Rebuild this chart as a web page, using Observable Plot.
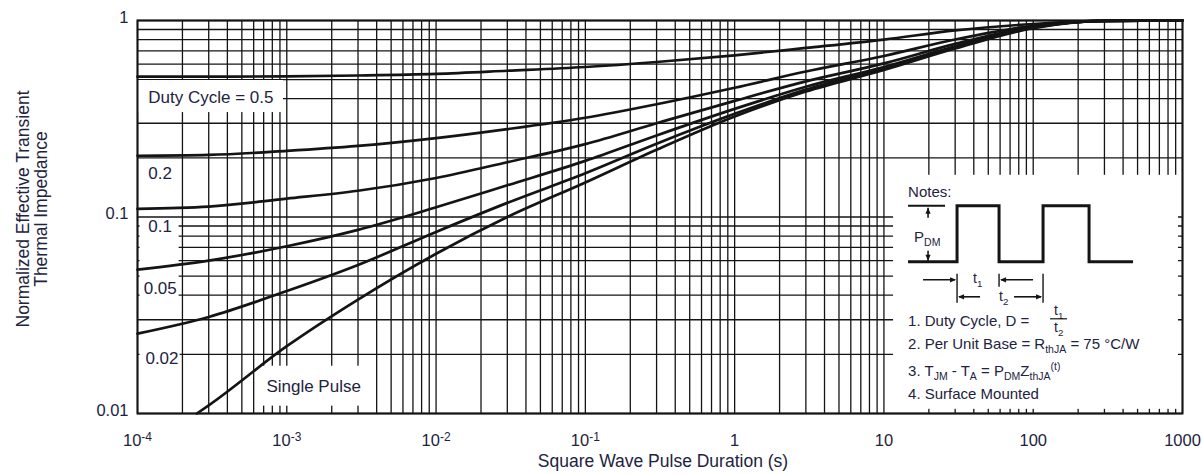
<!DOCTYPE html>
<html>
<head>
<meta charset="utf-8">
<script src="https://cdn.jsdelivr.net/npm/d3@7"></script>
<script src="https://cdn.jsdelivr.net/npm/@observablehq/plot@0.6"></script>
<style>
  html, body { margin: 0; padding: 0; background: #fff; }
  #chart { width: 1202px; height: 474px; }
  text { white-space: pre; }
</style>
</head>
<body>
<div id="chart"></div>
<script>
// ---------- data ----------
const pulseTimes = [1e-4, 3e-4, 1e-3, 3e-3, 1e-2, 3e-2, 0.1, 0.3, 1, 3, 10, 30, 100, 300, 1000];
const duty05 = [0.518, 0.518, 0.52, 0.525, 0.535, 0.555, 0.58, 0.615, 0.665, 0.725, 0.80, 0.89, 0.96, 0.996, 1.0];
const duty02 = [0.205, 0.207, 0.217, 0.23, 0.252, 0.28, 0.32, 0.375, 0.455, 0.55, 0.66, 0.80, 0.94, 0.996, 1.0];
const duty01 = [0.110, 0.113, 0.124, 0.136, 0.158, 0.19, 0.235, 0.30, 0.39, 0.49, 0.605, 0.76, 0.93, 0.995, 1.0];
const duty005 = [0.054, 0.060, 0.071, 0.086, 0.112, 0.145, 0.193, 0.26, 0.355, 0.46, 0.58, 0.74, 0.925, 0.995, 1.0];
const duty002 = [0.0255, 0.031, 0.042, 0.057, 0.084, 0.118, 0.167, 0.236, 0.335, 0.445, 0.57, 0.73, 0.92, 0.995, 1.0];
const singleTimes = [2.5e-4, 3e-4, 1e-3, 3e-3, 1e-2, 3e-2, 0.1, 0.3, 1, 3, 10, 30, 100, 300, 1000];
const singlePulse = [0.010, 0.011, 0.022, 0.038, 0.065, 0.10, 0.15, 0.22, 0.325, 0.435, 0.56, 0.72, 0.915, 0.995, 1.0];

const seriesNames = ["0.5", "0.2", "0.1", "0.05", "0.02", "Single Pulse"];
const xTicks = [1e-4, 1e-3, 1e-2, 1e-1, 1, 10, 100, 1000];
const xTickLabels = ["10^-4", "10^-3", "10^-2", "10^-1", "1", "10", "100", "1000"];
const yTicks = [0.01, 0.1, 1];
const yTickLabels = ["0.01", "0.1", "1"];
const curveLabelTexts = ["Duty Cycle = 0.5", "0.2", "0.1", "0.05", "0.02", "Single Pulse"];
const xTitle = "Square Wave Pulse Duration (s)";
const yTitle = "Normalized Effective Transient\nThermal Impedance";

// ---------- build tables ----------
const rows = [];
[duty05, duty02, duty01, duty005, duty002].forEach((vals, s) =>
  vals.forEach((z, i) => rows.push({t: pulseTimes[i], z, series: seriesNames[s]})));
singlePulse.forEach((z, i) => rows.push({t: singleTimes[i], z, series: seriesNames[5]}));

// log grid
const xGrid = [];
for (let e = -4; e <= 2; e++) for (let k = 1; k <= 9; k++) xGrid.push(k * Math.pow(10, e));
xGrid.push(1000);
const yGrid = [];
for (let e = -2; e <= -1; e++) for (let k = 1; k <= 9; k++) yGrid.push(k * Math.pow(10, e));
yGrid.push(1);

// annotation placement (data coordinates)
const labelPos = [
  {x: 1.18e-4, y: 0.405}, {x: 1.18e-4, y: 0.166}, {x: 1.18e-4, y: 0.0895},
  {x: 1.10e-4, y: 0.0434}, {x: 1.13e-4, y: 0.0191}, {x: 7.3e-4, y: 0.0137}
];
const curveLabels = curveLabelTexts.map((text, i) => ({text, ...labelPos[i]}));
const notesBox = [{x1: 11.6, x2: 940, y1: 0.0105, y2: 0.163}];
const whiteBoxes = [
  {x1: 1e-4, x2: 9.5e-4, y1: 0.34, y2: 0.495},
  {x1: 1.04e-4, x2: 1.9e-4, y1: 0.037, y2: 0.097},
  {x1: 1.04e-4, x2: 1.93e-4, y1: 0.0145, y2: 0.0235},
  {x1: 6.5e-4, x2: 3.7e-3, y1: 0.0109, y2: 0.0174}
];

const INK = "#1d2340";
const LINE = "#141414";
const FONT = '"Liberation Sans", Arial, Helvetica, sans-serif';

const svg = Plot.plot({
  width: 1202,
  height: 474,
  marginLeft: 137,
  marginRight: 20,
  marginTop: 20,
  marginBottom: 61,
  x: {type: "log", domain: [1e-4, 1000]},
  y: {type: "log", domain: [0.01, 1]},
  style: {fontFamily: FONT, fontSize: "16.5px", color: INK, background: "white", overflow: "visible"},
  marks: [
    Plot.ruleX(xGrid, {stroke: LINE, strokeWidth: 1.3}),
    Plot.ruleY(yGrid, {stroke: LINE, strokeWidth: 1.3}),
    Plot.rect(whiteBoxes, {x1: "x1", x2: "x2", y1: "y1", y2: "y2", fill: "white"}),
    Plot.rect(notesBox, {x1: "x1", x2: "x2", y1: "y1", y2: "y2", fill: "white"}),
    Plot.line(rows, {x: "t", y: "z", z: "series", stroke: LINE, strokeWidth: 2.7, curve: "monotone-x"}),
    Plot.frame({stroke: LINE, strokeWidth: 2}),
    Plot.text(curveLabels, {x: "x", y: "y", text: "text", textAnchor: "start", fontSize: 17, fill: INK}),
    Plot.axisX(xTicks, {tickSize: 0, tickPadding: 21, tickFormat: d => xTickLabels[xTicks.indexOf(d)], fontSize: 16.5, fill: INK}),
    Plot.axisY(yTicks, {tickSize: 0, tickPadding: 9, dy: -3, tickFormat: d => yTickLabels[yTicks.indexOf(d)], fontSize: 16.5, fill: INK}),
    Plot.text([xTitle], {frameAnchor: "bottom", dx: 3, dy: 53, fontSize: 17.5, fill: INK}),
    Plot.text([yTitle], {frameAnchor: "left", textAnchor: "middle", rotate: -90, dx: -105, dy: -8, lineHeight: 1.04, fontSize: 17.5, fill: INK})
  ]
});
document.getElementById("chart").appendChild(svg);

// superscripts on x tick labels
d3.select(svg).selectAll('g[aria-label="x-axis tick label"] text').each(function () {
  const s = this.textContent;
  if (s.includes("^")) {
    const [base, exp] = s.split("^");
    const t = d3.select(this);
    t.text(null);
    t.append("tspan").text(base);
    t.append("tspan").attr("dy", "-0.42em").style("font-size", "12px").text(exp);
  }
});

// ---------- notes inset ----------
const X = svg.scale("x"), Y = svg.scale("y");
const ox = X.apply(notesBox[0].x1), oy = Y.apply(notesBox[0].y2);
const g = d3.select(svg).append("g")
  .attr("transform", `translate(${ox},${oy})`)
  .attr("fill", INK)
  .attr("text-anchor", "start")
  .style("font-family", FONT);

function rich(x, y, parts, size = 15) {
  const t = g.append("text").attr("x", x).attr("y", y).attr("text-anchor", "start").style("font-size", size + "px");
  let shift = 0;
  for (const [s, kind] of parts) {
    const target = kind === "sub" ? 4 : kind === "sup" ? -6 : 0;
    t.append("tspan").attr("dy", target - shift)
      .style("font-size", (kind === "n" ? size : size * 0.7) + "px").text(s);
    shift = target;
  }
  return t;
}
function seg(x1, y1, x2, y2, w = 1.6) {
  g.append("line").attr("x1", x1).attr("y1", y1).attr("x2", x2).attr("y2", y2)
    .attr("stroke", LINE).attr("stroke-width", w);
}
function head(x, y, dir) {
  const L = 6, H = 2.6;
  let p;
  if (dir === "right") p = `M${x},${y}L${x - L},${y - H}L${x - L},${y + H}Z`;
  if (dir === "left") p = `M${x},${y}L${x + L},${y - H}L${x + L},${y + H}Z`;
  if (dir === "up") p = `M${x},${y}L${x - H},${y + L}L${x + H},${y + L}Z`;
  if (dir === "down") p = `M${x},${y}L${x - H},${y - L}L${x + H},${y - L}Z`;
  g.append("path").attr("d", p).attr("fill", LINE);
}

rich(15, 22, [["Notes:", "n"]]);
// waveform
g.append("path")
  .attr("d", "M15,87H64V31H106V87H150V31H196V87H240")
  .attr("fill", "none").attr("stroke", LINE).attr("stroke-width", 3);
// P_DM marker
seg(15, 31, 52, 31, 2);
seg(35, 33, 35, 43); head(35, 33, "up");
seg(35, 76, 35, 86); head(35, 86, "down");
rich(21, 67, [["P", "n"], ["DM", "sub"]], 15);
// t1 dimension
seg(30, 105, 62, 105); head(63, 105, "right");
seg(64, 99, 64, 128, 1.4);
seg(140, 105, 108, 105); head(107, 105, "left");
seg(106, 99, 106, 112, 1.4);
rich(80, 108, [["t", "n"], ["1", "sub"]], 14);
// t2 dimension
seg(87, 122, 66, 122); head(65, 122, "left");
seg(121, 122, 148, 122); head(149, 122, "right");
seg(150, 99, 150, 128, 1.4);
rich(106, 126, [["t", "n"], ["2", "sub"]], 14);
// notes text
rich(15, 151, [["1. Duty Cycle, D = ", "n"]]);
rich(161, 140, [["t", "n"], ["1", "sub"]], 14);
seg(157, 144, 174, 144, 1.2);
rich(161, 157, [["t", "n"], ["2", "sub"]], 14);
rich(15, 174, [["2. Per Unit Base = R", "n"], ["thJA", "sub"], [" = 75 °C/W", "n"]]);
rich(15, 201, [["3. T", "n"], ["JM", "sub"], [" - T", "n"], ["A", "sub"], [" = P", "n"], ["DM", "sub"], ["Z", "n"], ["thJA", "sub"], ["(t)", "sup"]]);
rich(15, 224, [["4. Surface Mounted", "n"]]);
</script>
</body>
</html>
